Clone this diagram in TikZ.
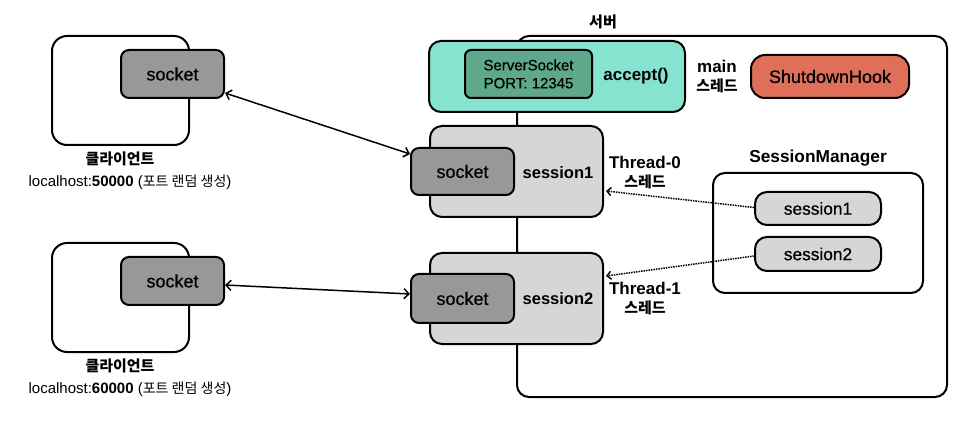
\documentclass[tikz,border=0pt]{standalone}
\usepackage{fontspec}
\setmainfont{Liberation Sans}
\newfontfamily\medfont{Liberation Sans}[FakeBold=0.6]
\newfontfamily\krfont{Noto Sans CJK KR}
\usetikzlibrary{arrows.meta}
\definecolor{tealfill}{RGB}{134,227,207}
\definecolor{greenfill}{RGB}{96,168,140}
\definecolor{sockfill}{RGB}{152,152,152}
\definecolor{sessfill}{RGB}{214,214,214}
\definecolor{redfill}{RGB}{224,111,89}
\begin{document}
\begin{tikzpicture}[x=1pt,y=-1pt,
  box/.style={draw=black, line width=2pt, inner sep=0pt, rounded corners=12pt},
  sockbox/.style={box, fill=sockfill, rounded corners=8pt, minimum width=103pt, minimum height=48pt,
    font=\medfont\fontsize{18}{21}\selectfont},
  sessbox/.style={box, fill=sessfill, minimum width=173pt, minimum height=91pt},
  clientbox/.style={box, fill=white, rounded corners=15pt, minimum width=137pt, minimum height=109pt},
  pill/.style={box, fill=sessfill, minimum width=126pt, minimum height=34pt,
    font=\medfont\fontsize{17.3}{20}\selectfont},
  blabel/.style={inner sep=0pt, font=\fontsize{17}{19}\selectfont\bfseries, align=center},
  krlabel/.style={inner sep=0pt, font=\krfont\bfseries\fontsize{15}{18}\selectfont},
  hostlabel/.style={inner sep=0pt, font=\fontsize{15}{18}\selectfont},
  link/.style={line width=1.5pt, {Straight Barb[length=5pt,width=10pt]}-{Straight Barb[length=5pt,width=10pt]}},
  dlink/.style={line width=1.5pt, densely dotted, -{Straight Barb[length=4pt,width=8pt]}}
]
\useasboundingbox[fill=white] (0,0) rectangle (970,422);

% server outer box
\node[box, minimum width=430pt, minimum height=361pt] (server) at (732,216.5) {};
\node[krlabel] (serverlbl) at (603,22) {서버};

% clients
\node[clientbox] (c1) at (120.5,90.5) {};
\node[sockbox] (cs1) at (172.5,74) {socket};
\node[krlabel] (c1lbl) at (120,159) {클라이언트};
\node[hostlabel] (c1host) at (130,182) {localhost:\textbf{50000} ({\krfont\fontsize{14}{16}\selectfont 포트 랜덤 생성})};

\node[clientbox] (c2) at (120.5,297.5) {};
\node[sockbox] (cs2) at (172.5,281) {socket};
\node[krlabel] (c2lbl) at (120,366) {클라이언트};
\node[hostlabel] (c2host) at (130,389) {localhost:\textbf{60000} ({\krfont\fontsize{14}{16}\selectfont 포트 랜덤 생성})};

% main thread
\node[box, fill=tealfill, minimum width=256pt, minimum height=71pt] (mainbox) at (557,76.5) {};
\node[box, fill=greenfill, rounded corners=6pt, minimum width=127pt, minimum height=48pt,
  align=center, font=\medfont\fontsize{15}{18}\selectfont] (ssock) at (528.5,74) {ServerSocket\\PORT: 12345};
\node[blabel] (accept) at (636,76) {accept()};
\node[blabel] (mainlbl) at (717,76.5) {main\\{\krfont\fontsize{15}{17}\selectfont 스레드}};
\node[box, fill=redfill, rounded corners=14pt, minimum width=158pt, minimum height=43pt,
  font=\medfont\fontsize{18}{21}\selectfont] (hook) at (830,76.5) {ShutdownHook};

% sessions
\node[sessbox] (sess1) at (516.5,171.5) {};
\node[sockbox, minimum height=47pt] (ss1) at (462.5,171.5) {socket};
\node[blabel, font=\fontsize{16.5}{19}\selectfont\bfseries] (sess1lbl) at (558,173) {session1};
\node[blabel] (t0lbl) at (645,172.5) {Thread-0\\{\krfont\fontsize{15}{19}\selectfont 스레드}};

\node[sessbox] (sess2) at (516.5,298.5) {};
\node[sockbox, minimum height=49pt] (ss2) at (462.5,298.5) {socket};
\node[blabel, font=\fontsize{16.5}{19}\selectfont\bfseries] (sess2lbl) at (558,299) {session2};
\node[blabel] (t1lbl) at (645,298.5) {Thread-1\\{\krfont\fontsize{15}{19}\selectfont 스레드}};

% session manager
\node[blabel, font=\fontsize{17.3}{20}\selectfont\bfseries] (smlbl) at (818,158) {SessionManager};
\node[box, minimum width=210pt, minimum height=120pt] (sm) at (818,233) {};
\node[pill, minimum height=33pt] (p1) at (818,208.5) {session1};
\node[pill] (p2) at (818,254) {session2};

% connectors
\draw[link] ([yshift=-19pt]cs1.east) -- ([yshift=17.5pt]ss1.west);
\draw[link] ([yshift=-4pt]cs2.east) -- ([yshift=4.5pt]ss2.west);
\draw[dlink] ([yshift=1pt]p1.west) -- ([xshift=2pt,yshift=-19.5pt]sess1.east);
\draw[dlink] ([yshift=-2pt]p2.west) -- ([xshift=2pt,yshift=22.5pt]sess2.east);
\end{tikzpicture}
\end{document}
